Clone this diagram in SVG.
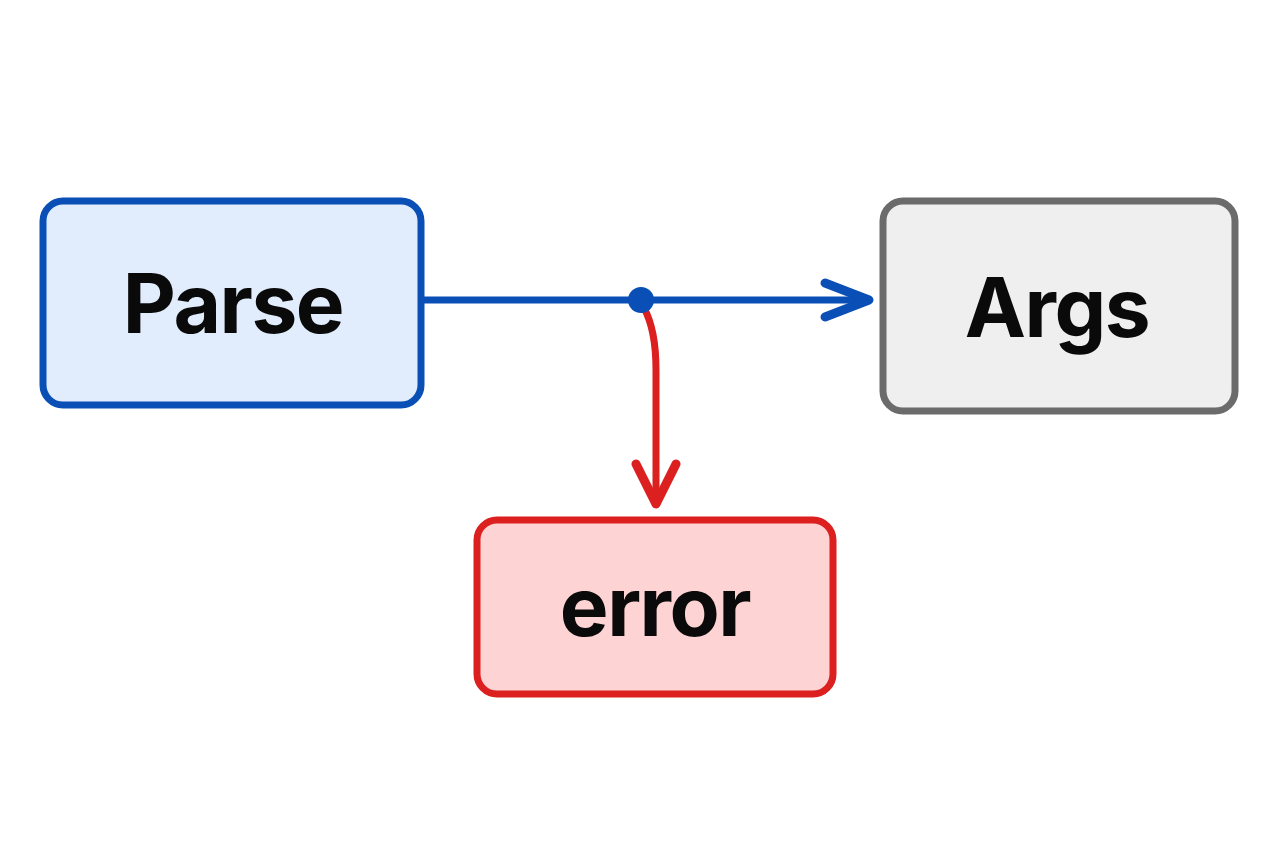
<svg xmlns="http://www.w3.org/2000/svg" width="1280" height="853" viewBox="0 0 1280 853">
  <style>
    .lbl { font-family: Inter, "Liberation Sans", Arial, sans-serif; font-weight: 700; font-size: 82px; letter-spacing: -1.5px; fill: #0a0a0a; text-anchor: middle; }
    .box { stroke-width: 7; }
  </style>
  <defs>
    <marker id="arrBlue" markerUnits="userSpaceOnUse" markerWidth="60" markerHeight="60" viewBox="-50 -25 60 50" refX="0" refY="0" orient="auto">
      <path d="M-44,-17 L0,0 L-44,17" fill="none" stroke="#0a4fb5" stroke-width="9" stroke-linecap="round" stroke-linejoin="round"/>
    </marker>
    <marker id="arrRed" markerUnits="userSpaceOnUse" markerWidth="60" markerHeight="60" viewBox="-50 -25 60 50" refX="0" refY="0" orient="auto">
      <path d="M-40,-20 L0,0 L-40,20" fill="none" stroke="#dc1f1f" stroke-width="9" stroke-linecap="round" stroke-linejoin="round"/>
    </marker>
  </defs>
  <rect width="1280" height="853" fill="#ffffff"/>
  <g id="connectors">
    <path d="M422,300 L869,300" fill="none" stroke="#0a4fb5" stroke-width="7" marker-end="url(#arrBlue)"/>
    <path d="M644,308 Q656,330 656,370 L656,504" fill="none" stroke="#dc1f1f" stroke-width="7" marker-end="url(#arrRed)"/>
    <circle cx="641" cy="300" r="13" fill="#0a4fb5"/>
  </g>
  <g id="parse">
    <rect class="box" x="43" y="201" width="378" height="204" rx="20" fill="#e1edfc" stroke="#0a4fb5"/>
    <text class="lbl" x="233" y="333">Parse</text>
  </g>
  <g id="args">
    <rect class="box" x="883" y="201" width="352" height="210" rx="20" fill="#efefef" stroke="#6b6b6b"/>
    <text class="lbl" x="1057" y="337">Args</text>
  </g>
  <g id="error">
    <rect class="box" x="477" y="520" width="356" height="174" rx="20" fill="#fdd3d3" stroke="#dc1f1f"/>
    <text class="lbl" x="655" y="636">error</text>
  </g>
</svg>
